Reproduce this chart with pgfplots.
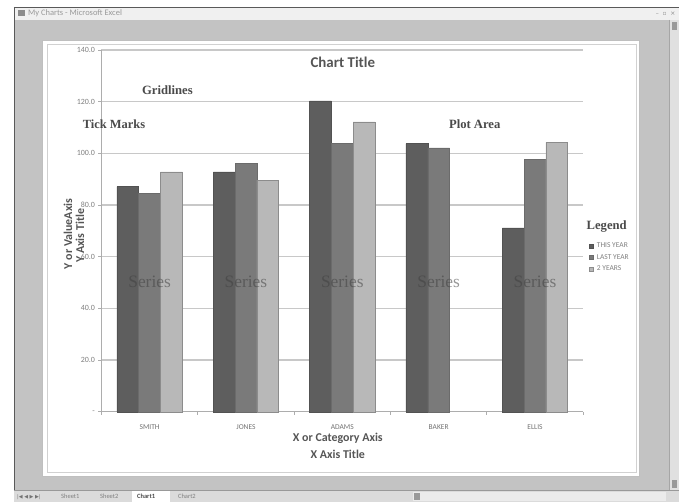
\documentclass[border=0pt]{standalone}
\usepackage{pgfplots}
\pgfplotsset{compat=1.18}
\usepackage{fontspec}
\setmainfont{Liberation Serif}
\newfontfamily\calfont{Carlito}
\newfontfamily\djv{DejaVu Sans}
\definecolor{thisyr}{HTML}{5E5E5E}
\definecolor{lastyr}{HTML}{7A7A7A}
\definecolor{twoyr}{HTML}{B8B8B8}
\definecolor{winbg}{HTML}{C3C3C3}
\definecolor{txt}{HTML}{555555}
\definecolor{gridc}{HTML}{C8C8C8}
\definecolor{lbl}{HTML}{4A4A4A}
\begin{document}
\begin{tikzpicture}
\begin{scope}[x=1bp,y=-1bp]
  \fill[white] (0,0) rectangle (679,502);
  \fill[winbg] (14,7) rectangle (679,502);
  % title bar
  \fill[black!6] (14,7) rectangle (679,20);
  \draw[black!65,line width=0.8bp] (14,7) -- (679,7);
  \draw[black!65,line width=0.8bp] (14,7) -- (14,502);
  \fill[black!45] (18,10) rectangle (25,16);
  \node[anchor=west,inner sep=0pt,font=\calfont\fontsize{8.5}{9}\selectfont,text=black!40] at (28,13.5) {My Charts - Microsoft Excel};
  \node[anchor=east,inner sep=0pt,font=\djv\fontsize{6}{7}\selectfont,text=black!45] at (676,13.5) {–\ \ ▫\ \ ×};
  % vertical scrollbar
  \fill[black!12] (670,20) rectangle (679,490);
  \draw[black!35] (670,20) -- (670,490);
  \fill[black!40] (672,22) rectangle (677,30);
  \fill[black!40] (672,480) rectangle (677,488);
  % bottom tab bar
  \fill[black!14] (14,490) rectangle (679,502);
  \draw[black!40] (14,490) -- (679,490);
  \node[anchor=west,inner sep=0pt,font=\djv\fontsize{5}{6}\selectfont,text=black!55] at (17,497) {|◀ ◀ ▶ ▶|};
  \node[anchor=west,inner sep=0pt,font=\calfont\fontsize{6.5}{7}\selectfont,text=black!50] at (61,497) {Sheet1};
  \node[anchor=west,inner sep=0pt,font=\calfont\fontsize{6.5}{7}\selectfont,text=black!50] at (100,497) {Sheet2};
  \fill[white] (132,491) rectangle (170,502);
  \node[anchor=west,inner sep=0pt,font=\calfont\bfseries\fontsize{6.5}{7}\selectfont,text=black!70] at (137,497) {Chart1};
  \node[anchor=west,inner sep=0pt,font=\calfont\fontsize{6.5}{7}\selectfont,text=black!50] at (178,497) {Chart2};
  \fill[black!8] (413,492) rectangle (666,501);
  \fill[black!40] (414,493) rectangle (420,500);
  % white chart sheet
  \fill[white] (42,40) rectangle (640,477);
  \draw[black!25,line width=0.6bp] (42,40) rectangle (640,477);
  \draw[black!18,line width=0.8bp] (47.5,44.5) rectangle (637,473);
\end{scope}

\begin{axis}[
  at={(101.5bp,-412bp)}, anchor=south west,
  scale only axis, width=482bp, height=362bp,
  xmin=-0.5, xmax=4.5, ymin=0, ymax=140,
  ybar=0pt, bar width=21.8bp,
  axis x line*=bottom, axis y line*=left,
  axis line style={draw=black!32,line width=0.9bp,-},
  xtick={0,1,2,3,4},
  xticklabels={SMITH,JONES,ADAMS,BAKER,ELLIS},
  minor xtick={-0.5,0.5,1.5,2.5,3.5,4.5},
  major x tick style={draw=none},
  minor x tick style={draw=black!32,line width=0.7bp},
  minor tick length=3bp,
  tick align=outside,
  ytick={0,20,40,60,80,100,120,140},
  yticklabels={-,20.0,40.0,60.0,80.0,100.0,120.0,140.0},
  major y tick style={draw=black!32,line width=0.7bp},
  major tick length=3bp,
  ymajorgrids,
  grid style={draw=gridc,line width=1.3bp},
  yticklabel style={font=\calfont\fontsize{8}{9}\selectfont,text=black!50},
  xticklabel style={font=\calfont\fontsize{7.5}{9}\selectfont,text=black!55,yshift=-6bp},
  legend style={at={(1.0114,0.4696)},anchor=north west,draw=none,fill=none,
    inner sep=0pt,row sep=4bp,column sep=3bp,font=\calfont\fontsize{7.5}{8}\selectfont,text=black!50,
    nodes={inner sep=0.6bp}},
  legend cell align=left,
  legend image code/.code={\fill[#1] (0bp,-2bp) rectangle (4bp,2bp);},
  clip=false,
]
\addplot[fill=thisyr,draw=black!68,line width=0.5bp] coordinates {(0,87.1) (1,92.8) (2,120.3) (3,103.8) (4,71.2)};
\addplot[fill=lastyr,draw=black!58,line width=0.5bp] coordinates {(0,84.4) (1,96.0) (2,103.8) (3,102.1) (4,97.8)};
\addplot[fill=twoyr,draw=black!45,line width=0.5bp] coordinates {(0,92.8) (1,89.6) (2,112.2) (4,104.2)};
\legend{THIS YEAR,LAST YEAR,2 YEARS}
\foreach \i in {0,...,4}{
  \edef\tmp{\noexpand\node[font=\noexpand\fontsize{17.5}{18}\noexpand\selectfont,text=black!75,opacity=0.55] at (axis cs:\i,50.3) {Series};}
  \tmp
}
\end{axis}

% overlay text
\node[font=\calfont\bfseries\fontsize{15}{16}\selectfont,text=txt] at (343bp,-62bp) {Chart Title};
\node[font=\bfseries\fontsize{12.7}{14}\selectfont,text=lbl] at (167.5bp,-90bp) {Gridlines};
\node[font=\bfseries\fontsize{12.5}{14}\selectfont,text=lbl] at (114bp,-124bp) {Tick Marks};
\node[font=\bfseries\fontsize{12.7}{14}\selectfont,text=lbl] at (475bp,-124bp) {Plot Area};
\node[font=\bfseries\fontsize{12.7}{14}\selectfont,text=lbl] at (607bp,-227bp) {Legend};
\node[rotate=90,font=\calfont\bfseries\fontsize{12}{13}\selectfont,text=txt] at (68bp,-234bp) {Y or ValueAxis};
\node[rotate=90,font=\calfont\bfseries\fontsize{12}{13}\selectfont,text=txt] at (80bp,-236bp) {Y Axis Title};
\node[font=\calfont\bfseries\fontsize{12}{13}\selectfont,text=txt] at (338bp,-439bp) {X or Category Axis};
\node[font=\calfont\bfseries\fontsize{12}{13}\selectfont,text=txt] at (338bp,-455bp) {X Axis Title};
\end{tikzpicture}
\end{document}
